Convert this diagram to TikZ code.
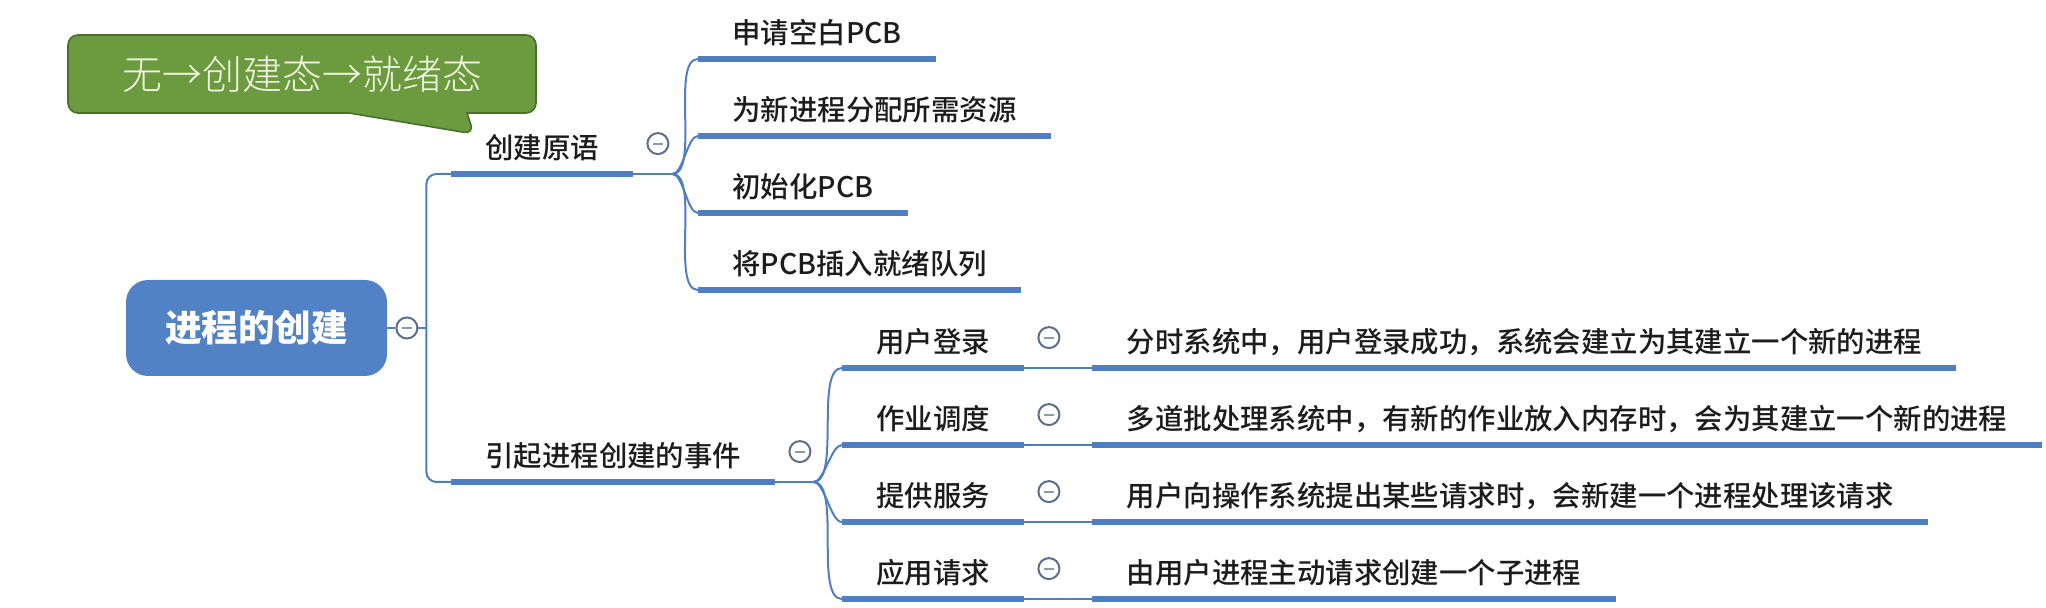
\documentclass[tikz,border=0pt]{standalone}
\usepackage{fontspec}
\setmainfont{Noto Sans CJK SC}
\IfFontExistsTF{Noto Sans CJK SC Medium}
    {\newfontfamily\itemfont{Noto Sans CJK SC Medium}}
    {\newfontfamily\itemfont{Noto Sans CJK SC}}
\IfFontExistsTF{Noto Sans CJK SC Light}
    {\newfontfamily\notefont{Noto Sans CJK SC Light}}
    {\newfontfamily\notefont{Noto Sans CJK SC}}
\usetikzlibrary{positioning,shapes.callouts}

\definecolor{lineblue}{RGB}{80,126,194}
\definecolor{rootblue}{RGB}{82,130,198}
\definecolor{notegreen}{RGB}{108,154,62}
\definecolor{notedark}{RGB}{72,112,40}
\definecolor{notetext}{RGB}{240,246,226}
\definecolor{foldgray}{RGB}{92,110,140}
\definecolor{itemtext}{RGB}{28,28,28}

\tikzset{
    root/.style = {rectangle,rounded corners=11pt,fill=rootblue,text=white,
                   minimum width=130.5pt,minimum height=48pt,
                   font=\fontsize{18.3pt}{22pt}\selectfont\bfseries},
    item/.style = {rectangle,inner xsep=17pt,inner ysep=4.5pt,text height=12pt,text depth=3pt,
                   text=itemtext,font=\itemfont\fontsize{14.2pt}{17pt}\selectfont},
    fold/.style = {circle,draw=foldgray,line width=1pt,fill=white,minimum size=10.5pt,inner sep=0pt,
                   path picture={\draw[foldgray!70,line width=1pt]
                       ([xshift=-2.6pt]path picture bounding box.center) --
                       ([xshift=2.6pt]path picture bounding box.center);}},
    note/.style = {rectangle callout,draw=notedark,fill=notegreen,line width=0.8pt,rounded corners=5pt,
                   minimum width=234pt,minimum height=39pt,text=notetext,
                   font=\notefont\fontsize{20pt}{24pt}\selectfont,
                   callout absolute pointer={(474,134)},callout pointer width=59pt},
    under/.style = {draw=lineblue,line width=2.6pt},
    branch/.style = {draw=lineblue,line width=1pt},
    twig/.style = {out=0,in=180,looseness=0.6}
}

\begin{document}
\begin{tikzpicture}[x=0.5pt,y=-0.5pt]
        \useasboundingbox (0,0) rectangle (2046,608);

        %% Note
        \node[note]  (note) at (302,74)   {无→创建态→就绪态};

        %% Root
        \node[root]  (root) at (256.5,328)   {进程的创建};
        \node[fold]  (froot) [right=4pt of root]   {};
        \coordinate[right=4pt of froot] (trunk);

        %% Primitive
        \node[item]  (prim) [anchor=south west] at (451,174)   {创建原语};
        \node[fold]  (fprim) [right=6.5pt of prim,yshift=3pt]   {};
        \coordinate[right=19.5pt of prim.south east] (bprim);

        \node[item]  (prim1) [anchor=south west] at (698,59)   {申请空白PCB};
        \node[item]  (prim2) [below=38.5pt of prim1.south west,anchor=south west]   {为新进程分配所需资源};
        \node[item]  (prim3) [below=38.5pt of prim2.south west,anchor=south west]   {初始化PCB};
        \node[item]  (prim4) [below=38.5pt of prim3.south west,anchor=south west]   {将PCB插入就绪队列};

        %% Events
        \node[item]  (evt) [below=154pt of prim.south west,anchor=south west]   {引起进程创建的事件};
        \node[fold]  (fevt) [right=6.5pt of evt,yshift=3pt]   {};
        \coordinate[right=19pt of evt.south east] (bevt);

        \node[item]  (evt1) [anchor=south west] at (842,368)   {用户登录};
        \node[item]  (evt2) [below=38.5pt of evt1.south west,anchor=south west]   {作业调度};
        \node[item]  (evt3) [below=38.5pt of evt2.south west,anchor=south west]   {提供服务};
        \node[item]  (evt4) [below=38.5pt of evt3.south west,anchor=south west]   {应用请求};
        \node[fold]  (fevt1) [right=6.5pt of evt1,yshift=3pt]   {};
        \node[fold]  (fevt2) [right=6.5pt of evt2,yshift=3pt]   {};
        \node[fold]  (fevt3) [right=6.5pt of evt3,yshift=3pt]   {};
        \node[fold]  (fevt4) [right=6.5pt of evt4,yshift=3pt]   {};

        \node[item]  (why1) [right=34pt of evt1.south east,anchor=south west]
                {分时系统中，用户登录成功，系统会建立为其建立一个新的进程};
        \node[item]  (why2) [right=34pt of evt2.south east,anchor=south west]
                {多道批处理系统中，有新的作业放入内存时，会为其建立一个新的进程};
        \node[item]  (why3) [right=34pt of evt3.south east,anchor=south west]
                {用户向操作系统提出某些请求时，会新建一个进程处理该请求};
        \node[item]  (why4) [right=34pt of evt4.south east,anchor=south west]
                {由用户进程主动请求创建一个子进程};

        %% Lines
        \draw[branch,rounded corners=5pt] (prim.south west) -| (trunk) |- (evt.south west);
        \path   [branch]
                (root) edge  (froot)
                (froot) edge  (trunk)
                (prim.south east) edge  (bprim)
                (bprim) edge [twig]  (prim1.south west)
                (bprim) edge [twig]  (prim2.south west)
                (bprim) edge [twig]  (prim3.south west)
                (bprim) edge [twig]  (prim4.south west)
                (evt.south east) edge  (bevt)
                (bevt) edge [twig]  (evt1.south west)
                (bevt) edge [twig]  (evt2.south west)
                (bevt) edge [twig]  (evt3.south west)
                (bevt) edge [twig]  (evt4.south west)
                (evt1.south east) edge  (why1.south west)
                (evt2.south east) edge  (why2.south west)
                (evt3.south east) edge  (why3.south west)
                (evt4.south east) edge  (why4.south west);

        \path   [under]
                (prim.south west) edge  (prim.south east)
                (prim1.south west) edge  (prim1.south east)
                (prim2.south west) edge  (prim2.south east)
                (prim3.south west) edge  (prim3.south east)
                (prim4.south west) edge  (prim4.south east)
                (evt.south west) edge  (evt.south east)
                (evt1.south west) edge  (evt1.south east)
                (evt2.south west) edge  (evt2.south east)
                (evt3.south west) edge  (evt3.south east)
                (evt4.south west) edge  (evt4.south east)
                (why1.south west) edge  (why1.south east)
                (why2.south west) edge  (why2.south east)
                (why3.south west) edge  (why3.south east)
                (why4.south west) edge  (why4.south east);
\end{tikzpicture}
\end{document}
